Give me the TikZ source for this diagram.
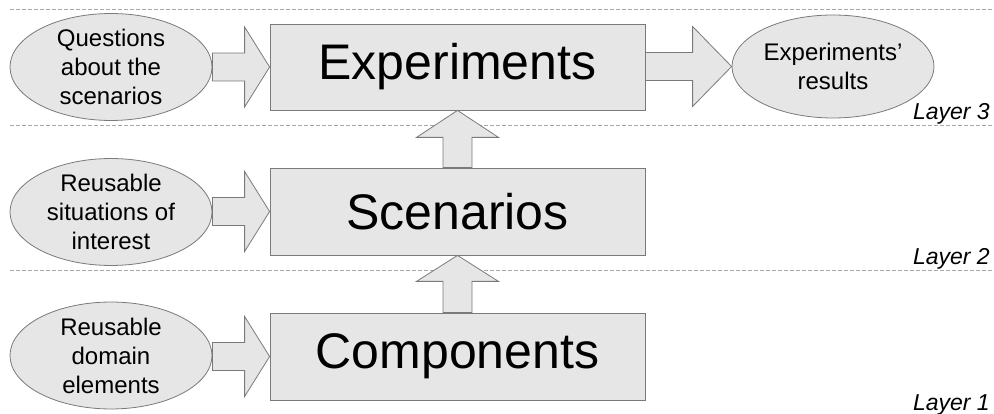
\documentclass[tikz,border=0pt]{standalone}
\usepackage{fontspec}
\setmainfont{Liberation Sans}
\usetikzlibrary{shapes.geometric,calc}
\definecolor{shapefill}{HTML}{E6E6E6}
\definecolor{shapeline}{HTML}{7A7A7A}
\definecolor{dashline}{HTML}{A8A8A8}
\tikzset{
  ell/.style={ellipse, draw=shapeline, fill=shapefill, line width=0.8pt,
    minimum width=202pt, minimum height=104pt, inner sep=0pt, align=center,
    font=\fontsize{24}{29}\selectfont},
  bigbox/.style={rectangle, draw=shapeline, fill=shapefill, line width=0.8pt,
    minimum width=375pt, minimum height=87pt, inner sep=0pt,
    font=\fontsize{50}{60}\selectfont},
  barrow/.style={draw=shapeline, fill=shapefill, line width=0.8pt, line join=miter},
  layersep/.style={draw=dashline, line width=0.8pt, dash pattern=on 4pt off 2pt},
  layerlabel/.style={anchor=base east, inner sep=0pt,
    font=\fontsize{23}{28}\selectfont\itshape}
}
% horizontal block arrow from #1 to #2, head length #3
\newcommand{\hblockarrow}[3]{%
  \path let \p1=(#1), \p2=(#2) in
    [barrow] (\x1,\y2+14pt) -- (\x2-#3,\y2+14pt) -- (\x2-#3,\y2+40pt) -- (\x2,\y2)
    -- (\x2-#3,\y2-40pt) -- (\x2-#3,\y2-14pt) -- (\x1,\y2-14pt) -- cycle;}
% vertical (upward) block arrow from #1 (below) to #2 (above), head length #3
\newcommand{\vblockarrow}[3]{%
  \path let \p1=(#1), \p2=(#2) in
    [barrow] (\x2-14.5pt,\y1) -- (\x2-14.5pt,\y2-#3) -- (\x2-41pt,\y2-#3) -- (\x2,\y2)
    -- (\x2+41pt,\y2-#3) -- (\x2+14.5pt,\y2-#3) -- (\x2+14.5pt,\y1) -- cycle;}
\begin{document}
\begin{tikzpicture}[x=1pt,y=-1pt]
\useasboundingbox (0,0) rectangle (994,414);

% layer separators
\coordinate (s1a) at (10,9);   \coordinate (s1b) at (994,9);
\coordinate (s2a) at (10,125); \coordinate (s2b) at (994,125);
\coordinate (s3a) at (10,270); \coordinate (s3b) at (994,270);
\draw[layersep] (s1a) -- (s1b);
\draw[layersep] (s2a) -- (s2b);
\draw[layersep] (s3a) -- (s3b);

% main boxes
\node[bigbox, minimum height=86pt] (exp) at (457.5,67) {Experiments};
\node[bigbox] (scen) at (457.5,211.5) {Scenarios};
\node[bigbox] (comp) at (457.5,356.5) {Components};

% ellipses
\node[ell] (q) at (111,67) {Questions\\about the\\scenarios};
\node[ell, minimum height=99pt] (sit) at (111,212) {Reusable\\situations of\\interest};
\node[ell] (dom) at (111,355.5) {Reusable\\domain\\elements};
\node[ell, minimum height=103pt] (res) at (833,66.5) {Experiments’\\results};

% block arrows
\hblockarrow{q.east}{exp.west}{25pt}
\hblockarrow{sit.east}{scen.west}{25pt}
\hblockarrow{dom.east}{comp.west}{25pt}
\hblockarrow{exp.east}{res.west}{39pt}
\vblockarrow{scen.north}{exp.south}{27pt}
\vblockarrow{comp.north}{scen.south}{26pt}

% layer labels
\node[layerlabel] (l3) at (990,120) {Layer 3};
\node[layerlabel] (l2) at (990,265) {Layer 2};
\node[layerlabel] (l1) at (990,410) {Layer 1};
\end{tikzpicture}
\end{document}
